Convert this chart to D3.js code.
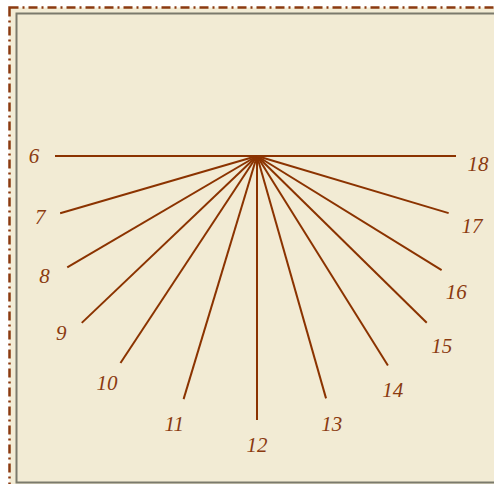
<!DOCTYPE html>
<html>
<head>
<meta charset="utf-8">
<script src="https://cdn.jsdelivr.net/npm/d3@7"></script>
<style>
    html, body { margin: 0; padding: 0; background: #fff; overflow: hidden; }
    .hour-label { font-family: "Liberation Serif", "DejaVu Serif", serif; font-style: italic; font-size: 21px; fill: #8a3a10; }
</style>
</head>
<body>
<div id="sundial"></div>
<script>
// hour lines of the dial, angle in degrees from the noon line (afternoon positive)
const hours = [6, 7, 8, 9, 10, 11, 12, 13, 14, 15, 16, 17, 18];
const lineAngles = [-90, -73.8, -59.6, -46.4, -33.4, -16.8, 0, 15.9, 32.0, 45.5, 58.3, 73.4, 90];
const lineLengths = [202, 205, 220, 242, 248, 254, 264, 252, 247, 238, 217, 200, 199];
const labelAngles = [-90, -74.4, -60.6, -47.9, -33.5, -17.2, 0, 15.6, 30.2, 44.2, 55.8, 72.1, 88.1];
const labelRadii = [223, 225, 244, 264, 272, 280, 289, 278, 270, 265, 241, 226, 221];

let width = 494, height = 484;
let origin = { x: 257, y: 156 };

let svg = d3.select("#sundial")
    .append("svg")
    .attr("width", width)
    .attr("height", height);

// page frame: dash-dot outline and the grey-bordered panel inside it
svg.append("rect")
    .attr("x", 9.5)
    .attr("y", 7.5)
    .attr("width", 520)
    .attr("height", 520)
    .attr("fill", "#f3ecd5")
    .attr("stroke", "#8b3a10")
    .attr("stroke-width", 2.5)
    .attr("stroke-dasharray", "9,4,2,4");

svg.append("rect")
    .attr("x", 16.5)
    .attr("y", 13.5)
    .attr("width", 520)
    .attr("height", 469)
    .attr("fill", "#f2ebd4")
    .attr("stroke", "#7b7a6c")
    .attr("stroke-width", 2);

let angleScale = d3.scaleLinear().domain([-90, 90]).range([1.5 * Math.PI, 0.5 * Math.PI]);
let rScale = d3.scaleLinear().domain([0, 300]).range([0, 300]);

let dial = svg.append("g")
    .attr("transform", `translate(${origin.x}, ${origin.y})`);

let data = hours.map((h, i) => ({
    hour: h,
    end: d3.pointRadial(angleScale(lineAngles[i]), rScale(lineLengths[i])),
    label: d3.pointRadial(angleScale(labelAngles[i]), rScale(labelRadii[i]))
}));

dial.selectAll("line.hour")
    .data(data)
    .enter()
    .append("line")
    .attr("class", "hour")
    .attr("x1", 0)
    .attr("y1", 0)
    .attr("x2", d => d.end[0])
    .attr("y2", d => d.end[1])
    .attr("stroke", "#8b3300")
    .attr("stroke-width", 2);

dial.selectAll("text.hour-label")
    .data(data)
    .enter()
    .append("text")
    .attr("class", "hour-label")
    .attr("x", d => d.label[0])
    .attr("y", d => d.label[1])
    .attr("dy", "0.35em")
    .attr("text-anchor", "middle")
    .text(d => d.hour);
</script>
</body>
</html>
